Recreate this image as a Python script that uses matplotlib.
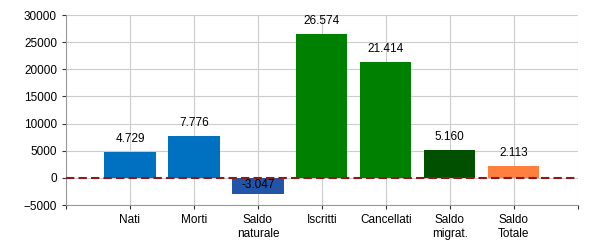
import matplotlib.pyplot as plt

plt.rcParams["font.family"] = ["Liberation Sans", "DejaVu Sans"]

categories = ["Nati", "Morti", "Saldo\nnaturale", "Iscritti", "Cancellati", "Saldo\nmigrat.", "Saldo\nTotale"]
values = [4729, 7776, -3047, 26574, 21414, 5160, 2113]
colors = ["#0070c0", "#0070c0", "#2255a8", "#008000", "#008000", "#005000", "#ff7f3f"]

fig = plt.figure(figsize=(6, 2.5), dpi=100)
ax = fig.add_axes([0.11, 0.18, 0.853, 0.76])

pos = list(range(1, len(categories) + 1))
bars = ax.bar(pos, values, width=0.8, color=colors, zorder=2)

for bar, v in zip(bars, values):
    label = f"{v:,}".replace(",", ".")
    x = bar.get_x() + bar.get_width() / 2
    if v >= 0:
        ax.annotate(label, (x, v), xytext=(0, 5), textcoords="offset points",
                    ha="center", va="bottom", fontsize=8.5, zorder=4)
    else:
        ax.annotate(label, (x, 0), xytext=(0, -1), textcoords="offset points",
                    ha="center", va="top", fontsize=8.5, zorder=4)

ax.axhline(0, color="#8b1a1a", linestyle="--", linewidth=1.5, dashes=(4, 2), zorder=3)

ax.set_xlim(0, 8)
ax.set_ylim(-5000, 30000)
ax.set_yticks(range(-5000, 30001, 5000))
ax.set_xticks(range(0, 9))
ax.set_xticklabels([""] + categories + [""])
ax.tick_params(axis="both", labelsize=8.5, length=3, color="#333333")
ax.grid(True, color="#cccccc", linewidth=0.8, zorder=0)
ax.set_axisbelow(True)
for s in ["top", "right"]:
    ax.spines[s].set_visible(False)
ax.spines["left"].set_color("#999999")
ax.spines["bottom"].set_color("#999999")

fig.savefig("out.png", dpi=100)
